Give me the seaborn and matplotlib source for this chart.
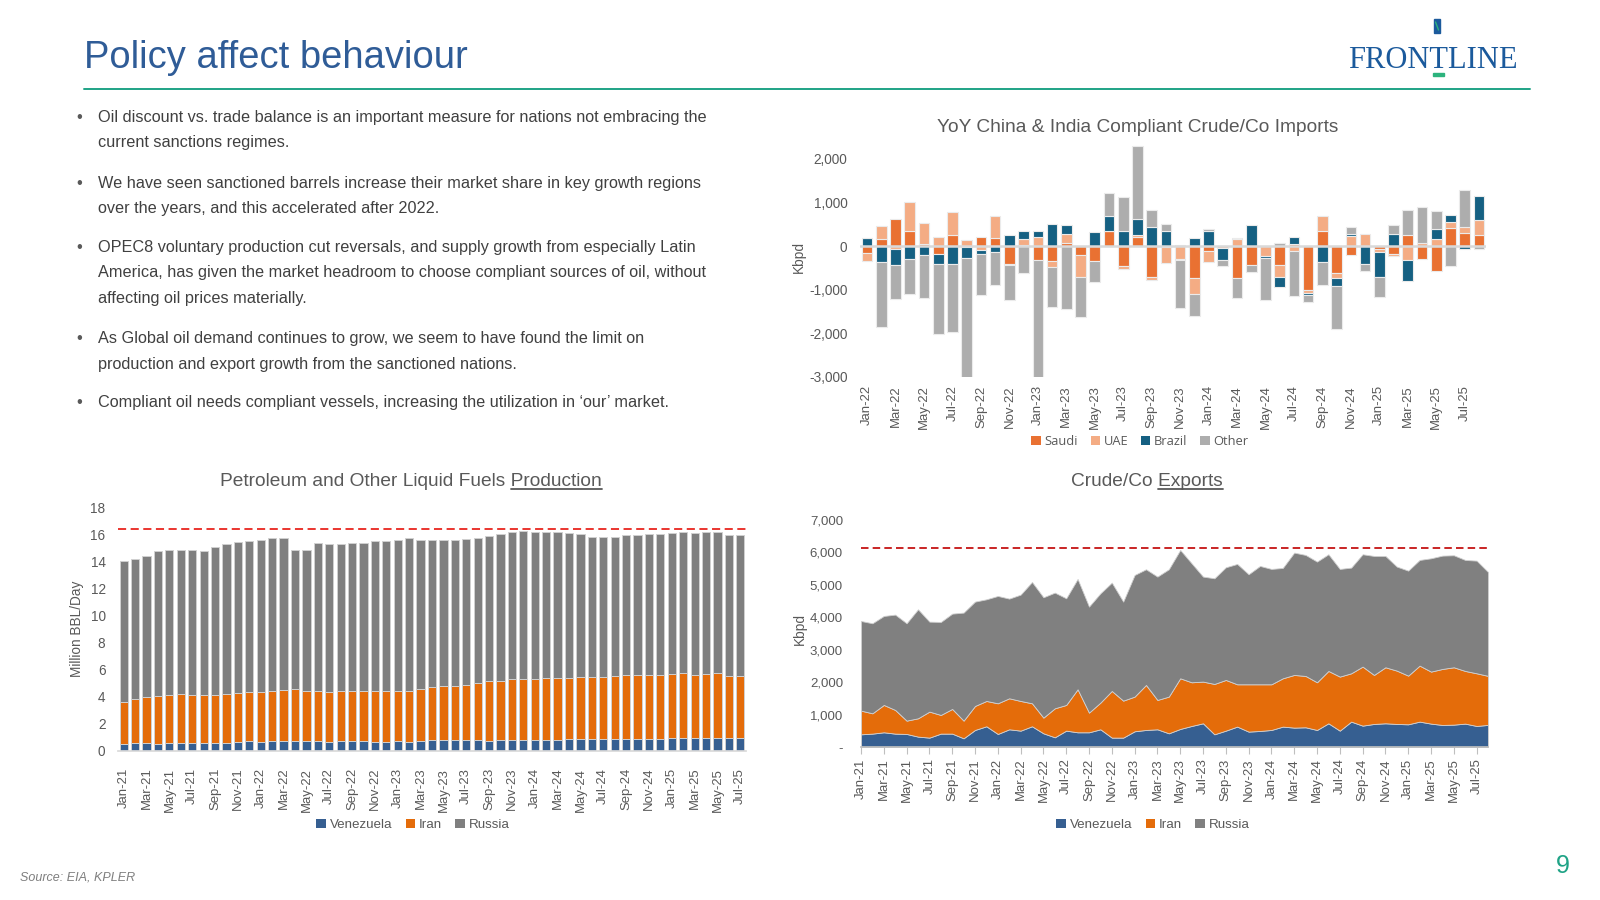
import matplotlib
matplotlib.use('Agg')
import matplotlib.pyplot as plt
from matplotlib import font_manager
from matplotlib.patches import Patch, Rectangle
from matplotlib.lines import Line2D
from matplotlib.ticker import FuncFormatter
import numpy as np
import pandas as pd
import seaborn as sns

# ---------------- data ----------------
# YoY China & India compliant crude/co imports (kbpd), Jan-22 .. Aug-25
imp_months = pd.date_range('2022-01-01', periods=44, freq='MS').strftime('%b-%y').tolist()
imp_saudi = [-170, 170, 615, 350, 45, -185, 255, -30, 215, 180, -415, 25,
             -320, -345, 75, -210, -345, 355, -460, 200, -710, -30, 30, -730,
             -110, 0, -725, -440, 0, -435, 45, -1000, 355, -610, -210, 0,
             -60, -185, 260, -285, -570, 410, 290, 250]
imp_uae = [-170, 280, -60, 670, 490, 215, 515, 140, -90, 515, -20, 130,
           200, -130, 200, -500, 0, 0, -55, 50, -75, -350, -290, -375,
           -255, -40, 170, 0, -230, -265, -110, -70, 340, -130, 230, 275,
           -70, -45, -310, 75, 155, 130, 140, 350]
imp_brazil = [180, -370, -380, -300, -210, -215, -415, -240, -90, -145, 255, 190,
              150, 500, 210, 0, 330, 340, 355, 360, 430, 355, -25, 190,
              355, -270, 25, 485, -40, -245, 170, -60, -370, -170, 45, -415,
              -580, 270, -490, 0, 245, 170, -75, 540]
imp_other = [0, -1480, -770, -790, -980, -1615, -1560, -2800, -950, -750, -810, -610,
             -2800, -920, -1450, -910, -475, 510, 760, 1680, 385, 145, -1100, -500,
             40, -150, -460, -150, -970, 60, -1040, -150, -530, -990, 170, -155,
             -460, 210, 570, 810, 410, -455, 860, -60]

# Petroleum and other liquid fuels production (million bbl/day), Jan-21 .. Jul-25
prod_months = pd.date_range('2021-01-01', periods=55, freq='MS').strftime('%b-%y').tolist()
prod_venezuela = [0.52, 0.57, 0.57, 0.52, 0.57, 0.62, 0.57, 0.57, 0.57, 0.62, 0.69, 0.74,
                  0.69, 0.74, 0.74, 0.76, 0.74, 0.74, 0.67, 0.74, 0.74, 0.74, 0.69, 0.69,
                  0.74, 0.69, 0.74, 0.79, 0.81, 0.81, 0.81, 0.81, 0.76, 0.79, 0.81, 0.84,
                  0.84, 0.84, 0.84, 0.86, 0.89, 0.89, 0.89, 0.91, 0.91, 0.91, 0.86, 0.91,
                  0.96, 0.99, 0.99, 0.99, 0.99, 0.99, 0.99]
prod_iran = [3.13, 3.28, 3.40, 3.55, 3.55, 3.57, 3.60, 3.55, 3.55, 3.57, 3.58, 3.62,
             3.70, 3.72, 3.77, 3.80, 3.70, 3.70, 3.67, 3.70, 3.70, 3.72, 3.77, 3.77,
             3.72, 3.77, 3.85, 3.92, 3.97, 4.02, 4.10, 4.24, 4.39, 4.41, 4.49, 4.51,
             4.49, 4.53, 4.58, 4.56, 4.56, 4.56, 4.61, 4.66, 4.71, 4.69, 4.74, 4.71,
             4.71, 4.75, 4.66, 4.73, 4.75, 4.58, 4.58]
prod_russia = [10.40, 10.33, 10.48, 10.72, 10.72, 10.67, 10.72, 10.67, 10.97, 11.10, 11.19, 11.15,
               11.24, 11.27, 11.27, 10.28, 10.40, 10.92, 10.95, 10.85, 10.92, 10.95, 11.07, 11.10,
               11.15, 11.32, 10.99, 10.87, 10.85, 10.75, 10.75, 10.71, 10.76, 10.85, 10.87, 10.92,
               10.89, 10.80, 10.80, 10.70, 10.58, 10.41, 10.36, 10.29, 10.34, 10.38, 10.45, 10.46,
               10.48, 10.43, 10.45, 10.48, 10.48, 10.39, 10.39]
PROD_CAP = 16.45

# Crude/co exports (kbpd), Jan-21 .. Aug-25
exp_months = pd.date_range('2021-01-01', periods=56, freq='MS').strftime('%b-%y').tolist()
exp_venezuela = [400, 421, 462, 421, 411, 329, 298, 421, 421, 277,
                 534, 647, 411, 554, 513, 647, 431, 308, 513, 462,
                 462, 554, 298, 298, 493, 534, 554, 431, 565, 657,
                 739, 400, 513, 637, 483, 503, 534, 637, 606, 616,
                 534, 739, 513, 791, 667, 719, 739, 719, 708, 791,
                 729, 688, 698, 729, 657, 690]
exp_iran = [729, 626, 842, 729, 410, 564, 801, 575, 760, 544,
            739, 780, 944, 955, 914, 708, 483, 893, 791, 1324,
            606, 822, 1437, 1139, 1068, 1386, 904, 1130, 1560, 1345,
            1284, 1551, 1561, 1303, 1457, 1437, 1406, 1488, 1622, 1581,
            1468, 1612, 1664, 1488, 1818, 1509, 1725, 1642, 1499, 1724,
            1602, 1725, 1766, 1622, 1622, 1510]
exp_russia = [2761, 2773, 2741, 2936, 2999, 3357, 2771, 2864, 2936, 3327,
              3214, 3131, 3306, 3070, 3275, 3737, 3706, 3563, 3285, 3399,
              3265, 3367, 3337, 3050, 3747, 3563, 3799, 3922, 3953, 3665,
              3234, 3254, 3470, 3707, 3389, 3645, 3553, 3399, 3768, 3727,
              3717, 3594, 3316, 3255, 3460, 3665, 3429, 3204, 3234, 3255,
              3490, 3490, 3450, 3419, 3470, 3200]
EXP_CAP = 6150

bullets = [
    ["Oil discount vs. trade balance is an important measure for nations not embracing the",
     "current sanctions regimes."],
    ["We have seen sanctioned barrels increase their market share in key growth regions",
     "over the years, and this accelerated after 2022."],
    ["OPEC8 voluntary production cut reversals, and supply growth from especially Latin",
     "America, has given the market headroom to choose compliant sources of oil, without",
     "affecting oil prices materially."],
    ["As Global oil demand continues to grow, we seem to have found the limit on",
     "production and export growth from the sanctioned nations."],
    ["Compliant oil needs compliant vessels, increasing the utilization in \u2018our\u2019 market."],
]

# ---------------- style ----------------
sns.set_theme(style='white')
installed = {f.name for f in font_manager.fontManager.ttflist}
# a narrow face is used when present, otherwise the regular face at smaller sizes
if 'Liberation Sans Narrow' in installed:
    NARROW, K = 'Liberation Sans Narrow', 1.0
else:
    NARROW, K = 'Liberation Sans', 0.93
plt.rcParams['font.family'] = [NARROW, 'DejaVu Sans']
plt.rcParams['axes.unicode_minus'] = False

TXT = '#595959'
BLUE_TITLE = '#2F5C97'
TEAL = '#1FA386'
C_SAUDI, C_UAE, C_BRAZIL, C_OTHER = '#E97132', '#F4AC84', '#156082', '#ADADAD'
C_VEN, C_IRAN, C_RUS = '#365F91', '#E46C0A', '#7F7F7F'

W, H = 1600, 900
fig = plt.figure(figsize=(16, 9), dpi=100)


def box(x0, y0, x1, y1):
    # pixel box (y from top) -> figure fraction
    return [x0 / W, 1 - y1 / H, (x1 - x0) / W, (y1 - y0) / H]


def fx(x):
    return x / W


def fy(y):
    return 1 - y / H


# ---------------- slide header ----------------
fig.text(fx(84), fy(58), 'Policy affect behaviour', fontsize=29.5 * K, color=BLUE_TITLE,
         ha='left', va='center')
fig.add_artist(Line2D([fx(84), fx(1530)], [fy(89), fy(89)], color=TEAL, lw=1.4))

fig.text(fx(1518), fy(61), 'FRONTLINE', family=['Liberation Serif', 'DejaVu Serif'],
         fontsize=22, color='#1B5A9C', ha='right', va='center')
fig.add_artist(Rectangle((fx(1434), fy(33)), 6 / W, 14 / H, color='#1B5A9C'))
fig.add_artist(Line2D([fx(1435.5), fx(1438.5)], [fy(22), fy(30)], color='#2DB37D', lw=1.0))
fig.add_artist(Rectangle((fx(1433), fy(76)), 11 / W, 3 / H, color='#2DB37D'))

# ---------------- bullets ----------------
bullet_tops = [117.5, 183.5, 247.5, 338.5, 402.5]
for top, lines in zip(bullet_tops, bullets):
    fig.text(fx(79), fy(top), '\u2022', fontsize=12, color=TXT, ha='center', va='center')
    for i, line in enumerate(lines):
        fig.text(fx(98), fy(top + 25.5 * i), line, fontsize=12.6 * K, color='#404040',
                 ha='left', va='center')

fig.text(fx(20), fy(878), 'Source: EIA, KPLER', fontsize=9, style='italic', color='#7F7F7F',
         ha='left', va='center')
fig.text(fx(1563), fy(866), '9', fontsize=18, color=TEAL, ha='center', va='center',
         family=['Liberation Sans', 'DejaVu Sans'])

TITLE_FS = 14.8 * K


def underlined_title(x, y, plain, under):
    t = fig.text(fx(x), fy(y), plain + under, fontsize=TITLE_FS, color=TXT, ha='center', va='center')
    r = fig.canvas.get_renderer()
    bb = t.get_window_extent(r)
    probe = fig.text(0, 0, under, fontsize=TITLE_FS)
    w = probe.get_window_extent(r).width
    probe.remove()
    fw, fh = fig.bbox.width, fig.bbox.height
    fig.add_artist(Line2D([(bb.x1 - w) / fw, bb.x1 / fw], [(bb.y0 + 1) / fh] * 2,
                          color=TXT, lw=1.3))


def square_legend(x, y, labels, colors, size=10, family=None):
    handles = [Patch(facecolor=c, edgecolor='none') for c in colors]
    leg = fig.legend(handles, labels, loc='center', bbox_to_anchor=(fx(x), fy(y)),
                     ncol=len(labels), frameon=False, handlelength=0.7, handleheight=0.7,
                     handletextpad=0.3, columnspacing=1.0, fontsize=size)
    for t in leg.get_texts():
        t.set_color(TXT)
        if family:
            t.set_family(family)


TICK_FS = 10.6 * K
XTICK_FS = 10.2 * K

# ---------------- top right: YoY imports ----------------
ax1 = fig.add_axes(box(860, 143.5, 1486, 377))
n1 = len(imp_months)
pos_base = np.zeros(n1)
neg_base = np.zeros(n1)
for vals, col in zip([imp_saudi, imp_uae, imp_brazil, imp_other],
                     [C_SAUDI, C_UAE, C_BRAZIL, C_OTHER]):
    v = np.array(vals, dtype=float)
    bottom = np.where(v >= 0, pos_base, neg_base)
    sns.barplot(x=imp_months, y=v, order=imp_months, bottom=bottom, color=col,
                saturation=1, width=0.75, errorbar=None, edgecolor='#EBEBEB',
                linewidth=0.8, ax=ax1)
    pos_base += np.clip(v, 0, None)
    neg_base += np.clip(v, None, 0)
ax1.axhline(0, color='#D9D9D9', lw=1.8, zorder=3)
ax1.set_xlim(-0.5, n1 - 0.5)
ax1.set_ylim(-3000, 2350)
ax1.set_yticks(range(-3000, 2001, 1000))
ax1.yaxis.set_major_formatter(FuncFormatter(lambda v, p: f'{v:,.0f}'))
ax1.set_xticks(range(0, n1, 2))
ax1.set_xticklabels(imp_months[::2], rotation=90)
ax1.tick_params(axis='both', length=0, labelsize=TICK_FS, colors=TXT)
ax1.tick_params(axis='y', pad=9)
ax1.tick_params(axis='x', pad=6, labelsize=XTICK_FS)
ax1.set_xlabel('')
ax1.set_ylabel('')
for s in ax1.spines.values():
    s.set_visible(False)
fig.text(fx(1138), fy(127), 'YoY China & India Compliant Crude/Co Imports', fontsize=TITLE_FS,
         color=TXT, ha='center', va='center')
fig.text(fx(799), fy(257), 'Kbpd', rotation=90, fontsize=TICK_FS, color=TXT, ha='center', va='center')
square_legend(1140, 442, ['Saudi', 'UAE', 'Brazil', 'Other'],
              [C_SAUDI, C_UAE, C_BRAZIL, C_OTHER], size=9.3,
              family=['Open Sans', 'DejaVu Sans'])

# ---------------- bottom left: production ----------------
ax2 = fig.add_axes(box(118, 507.7, 746, 751))
n2 = len(prod_months)
base = np.zeros(n2)
for vals, col in zip([prod_venezuela, prod_iran, prod_russia], [C_VEN, C_IRAN, C_RUS]):
    v = np.array(vals, dtype=float)
    sns.barplot(x=prod_months, y=v, order=prod_months, bottom=base.copy(), color=col,
                saturation=1, width=0.72, errorbar=None, edgecolor='#D0D0D0',
                linewidth=0.7, ax=ax2)
    base += v
ax2.axhline(PROD_CAP, color='#E8251F', lw=1.3, dashes=(4.5, 2.5), zorder=4)
ax2.set_xlim(-0.5, n2 - 0.5)
ax2.set_ylim(0, 18)
ax2.set_yticks(range(0, 19, 2))
ax2.set_xticks(range(0, n2, 2))
ax2.set_xticklabels(prod_months[::2], rotation=90)
ax2.tick_params(axis='both', length=0, labelsize=TICK_FS, colors=TXT)
ax2.tick_params(axis='y', pad=9)
ax2.tick_params(axis='x', pad=12, labelsize=XTICK_FS)
ax2.set_xlabel('')
ax2.set_ylabel('')
for name, s in ax2.spines.items():
    s.set_visible(name == 'bottom')
ax2.spines['bottom'].set_color('#D9D9D9')
underlined_title(411, 481, 'Petroleum and Other Liquid Fuels ', 'Production')
fig.text(fx(77), fy(629), 'Million BBL/Day', rotation=90, fontsize=TICK_FS, color=TXT,
         ha='center', va='center')
square_legend(413, 825, ['Venezuela', 'Iran', 'Russia'], [C_VEN, C_IRAN, C_RUS], size=9.6)

# ---------------- bottom right: exports ----------------
ax3 = fig.add_axes(box(861, 520, 1488, 747.3))
n3 = len(exp_months)
xs = np.arange(n3)
ax3.stackplot(xs, exp_venezuela, exp_iran, exp_russia, colors=[C_VEN, C_IRAN, '#808080'],
              edgecolor='#D0D0D0', linewidth=0.6)
ax3.axhline(EXP_CAP, color='#C00000', lw=1.2, dashes=(4.5, 2.5), zorder=4)
ax3.set_xlim(0, n3 - 1)
ax3.set_ylim(0, 7000)
ax3.set_yticks(range(0, 7001, 1000))
ax3.yaxis.set_major_formatter(FuncFormatter(lambda v, p: '-' if v == 0 else f'{v:,.0f}'))
ax3.set_xticks(range(0, n3, 2))
ax3.set_xticklabels(exp_months[::2], rotation=90)
ax3.tick_params(axis='y', length=0, labelsize=TICK_FS * 0.97, colors=TXT, pad=13)
ax3.tick_params(axis='x', length=5, width=0.8, color='#BFBFBF', labelcolor=TXT,
                labelsize=XTICK_FS, pad=3, direction='out', bottom=True)
for name, s in ax3.spines.items():
    s.set_visible(name == 'bottom')
ax3.spines['bottom'].set_color('#BFBFBF')
underlined_title(1147, 481, 'Crude/Co ', 'Exports')
fig.text(fx(800), fy(629), 'Kbpd', rotation=90, fontsize=TICK_FS, color=TXT, ha='center', va='center')
square_legend(1153, 825, ['Venezuela', 'Iran', 'Russia'], [C_VEN, C_IRAN, '#808080'], size=9.6)

fig.savefig('out.png', dpi=100)
